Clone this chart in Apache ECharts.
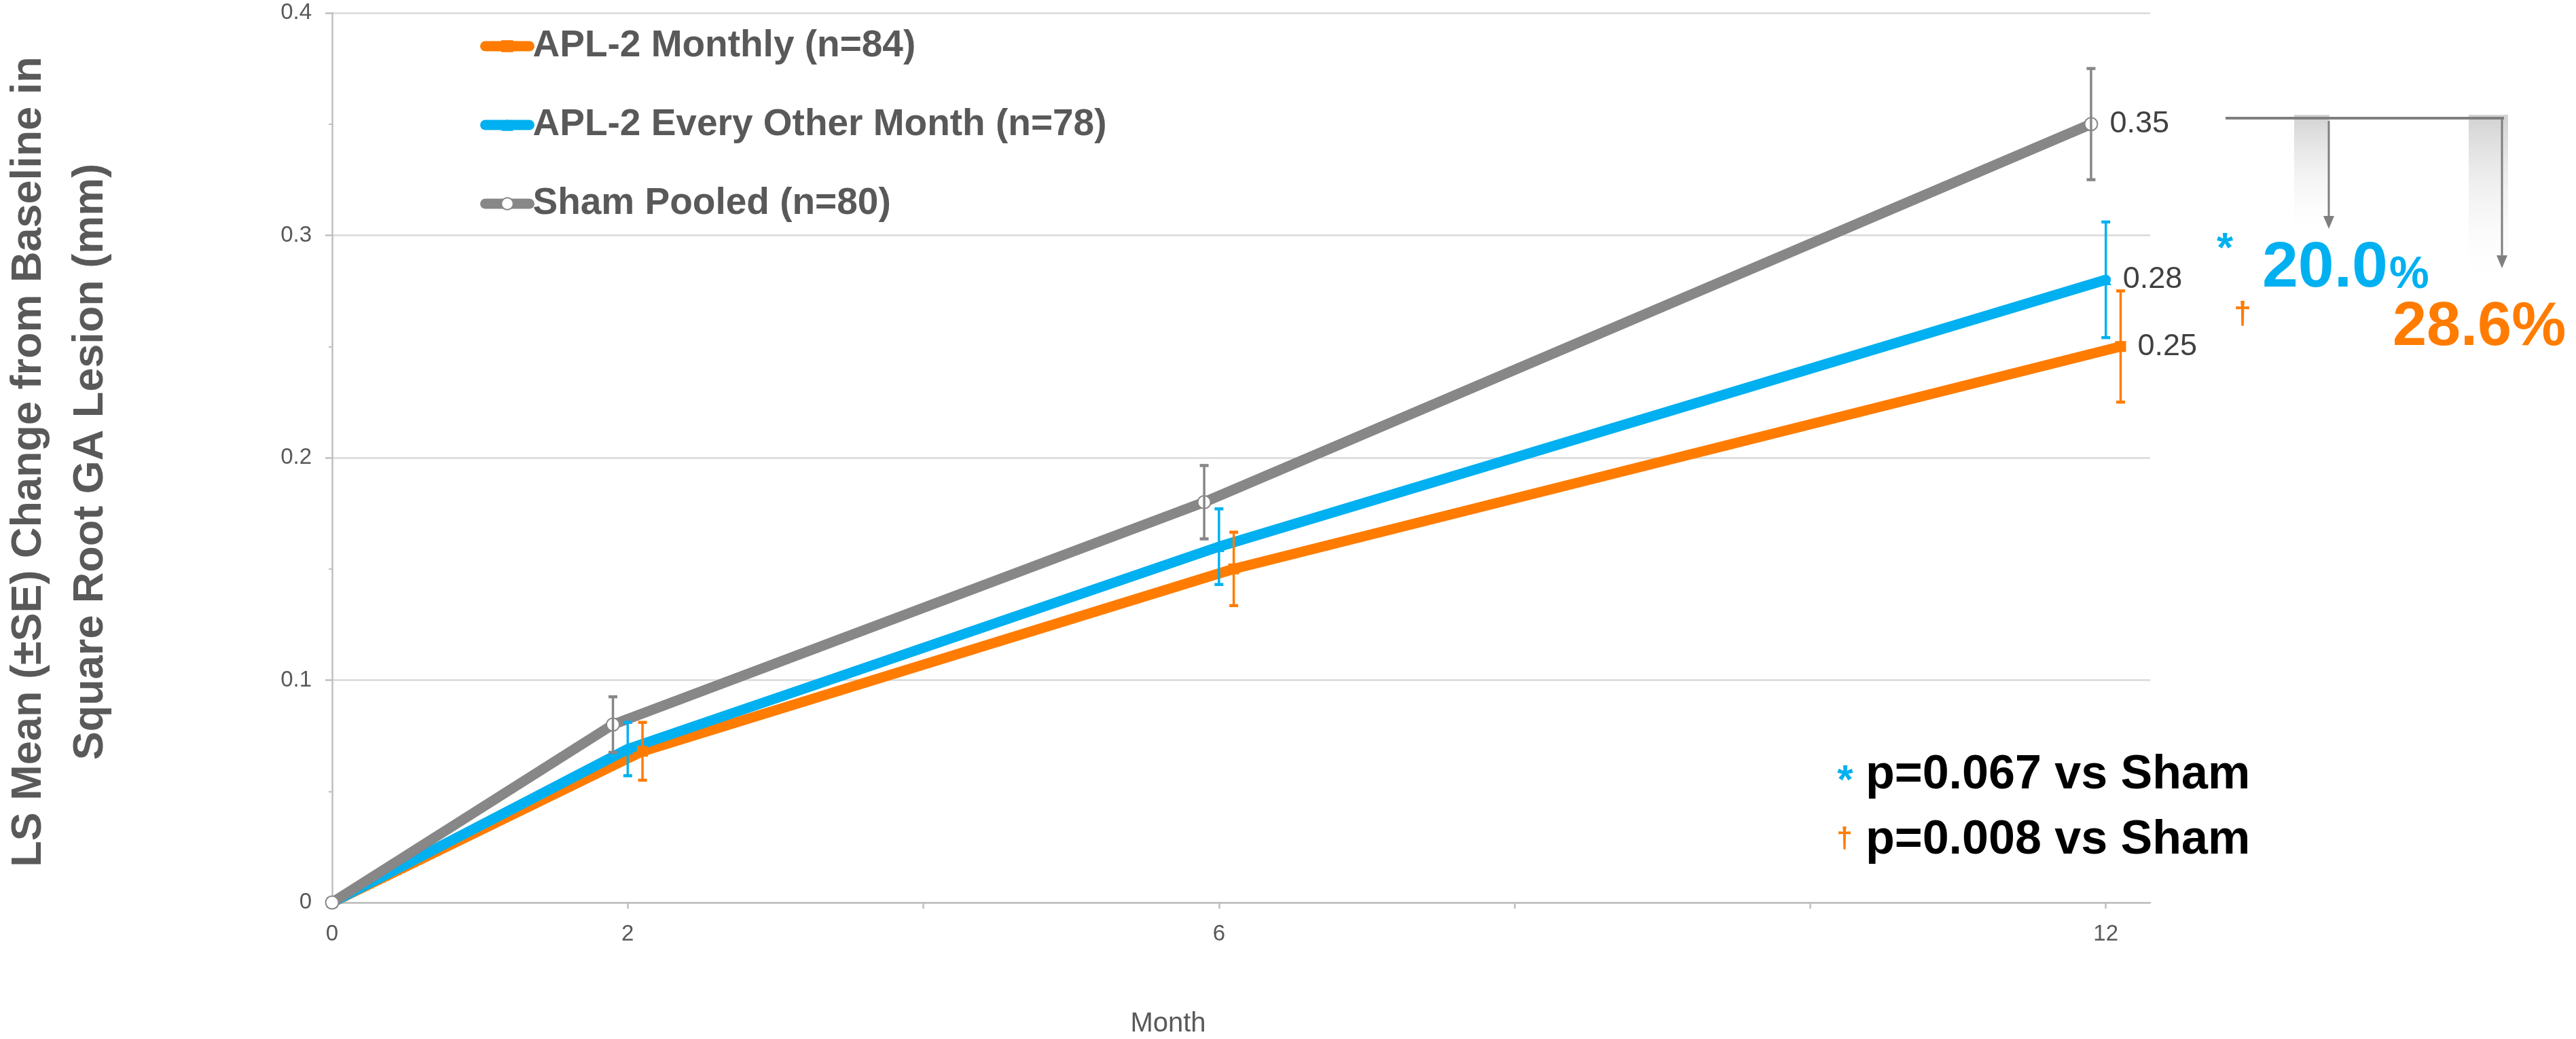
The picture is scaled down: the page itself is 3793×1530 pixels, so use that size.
<!DOCTYPE html>
<html>
<head>
<meta charset="utf-8">
<script src="https://cdn.jsdelivr.net/npm/echarts@6/dist/echarts.min.js"></script>
<style>
html,body{margin:0;padding:0;background:#fff;}
#chart{width:3793px;height:1530px;}
</style>
</head>
<body>
<div id="chart"></div>
<script>
// ---- data ----
const seriesNames = ['APL-2 Monthly (n=84)', 'APL-2 Every Other Month (n=78)', 'Sham Pooled (n=80)'];
// months at which each series is plotted (the chart staggers the groups slightly)
const monthsMonthly = [0, 2.1, 6.1, 12.1];
const monthsEOM     = [0, 2.0, 6.0, 12.0];
const monthsSham    = [0, 1.9, 5.9, 11.9];
// LS mean change from baseline (mm)
const meanMonthly = [0, 0.068, 0.150, 0.250];
const meanEOM     = [0, 0.069, 0.160, 0.280];
const meanSham    = [0, 0.080, 0.180, 0.350];
// standard errors
const seMonthly = [0, 0.013, 0.0165, 0.025];
const seEOM     = [0, 0.012, 0.017, 0.026];
const seSham    = [0, 0.0125, 0.0165, 0.025];
// axis ticks
const xTickLabels = [0, 2, 6, 12];
const xTickMarks  = [0, 2, 4, 6, 8, 10, 12];
const annotation = { eomReduction: '20.0', monthlyReduction: '28.6%', pEOM: 'p=0.067 vs Sham', pMonthly: 'p=0.008 vs Sham' };

// ---- styles ----
const FONT = '"Liberation Sans", Arial, sans-serif';
const ORANGE = '#ff7c00', BLUE = '#00b0f0', GRAY = '#878787';

function pts(xs, ys) {
  return ys.map((v, i) => i === ys.length - 1
    ? { value: [xs[i], v], label: { show: true } }
    : [xs[i], v]);
}
function errData(xs, ys, se) { return ys.map((v, i) => [xs[i], v, se[i]]); }
function errRender(color) {
  return function (params, api) {
    const x = api.value(0), y = api.value(1), se = api.value(2);
    if (!se) return null;
    const t = api.coord([x, y + se]), b = api.coord([x, y - se]);
    const cw = 13, ch = 4.5;
    return {
      type: 'group',
      children: [
        { type: 'line', shape: { x1: t[0], y1: t[1], x2: b[0], y2: b[1] }, style: { stroke: color, lineWidth: 3.5 } },
        { type: 'rect', shape: { x: t[0] - cw / 2, y: t[1] - ch / 2, width: cw, height: ch }, style: { fill: color } },
        { type: 'rect', shape: { x: b[0] - cw / 2, y: b[1] - ch / 2, width: cw, height: ch }, style: { fill: color } }
      ]
    };
  };
}
const lbl = { show: false, position: 'right', distance: 17, fontSize: 45, color: '#404040', fontFamily: FONT,
  formatter: p => p.value[1].toFixed(2) };

function lineSeries(name, xs, ys, color, symbol, size, itemStyle) {
  return {
    name, type: 'line', data: pts(xs, ys), symbol, symbolSize: size, showAllSymbol: true,
    lineStyle: { color, width: 15, cap: 'round', join: 'round' },
    itemStyle: itemStyle || { color },
    label: lbl, emphasis: { disabled: true }, z: 3
  };
}
function errSeries(xs, ys, se, color) {
  return { type: 'custom', renderItem: errRender(color), data: errData(xs, ys, se), z: 4, silent: true,
    encode: { x: 0, y: 1 } };
}

const chart = echarts.init(document.getElementById('chart'), null, { renderer: 'canvas' });

const option = {
  animation: false,
  backgroundColor: '#ffffff',
  grid: { left: 489, right: 627, top: 19, bottom: 201, containLabel: false },
  xAxis: {
    type: 'value', min: 0, max: 12.3,
    axisLine: { show: true, lineStyle: { color: '#bfbfbf', width: 2.5 } },
    axisTick: { show: true, customValues: xTickMarks, length: 9, lineStyle: { color: '#bfbfbf', width: 2.5 } },
    axisLabel: { customValues: xTickLabels, fontSize: 33, fontFamily: FONT, margin: 30,
      color: v => (v === 2 ? '#000000' : '#595959') },
    splitLine: { show: false }
  },
  yAxis: {
    type: 'value', min: 0, max: 0.4, interval: 0.1,
    axisLine: { show: true, lineStyle: { color: '#bfbfbf', width: 2.5 } },
    axisTick: { show: true, length: 10, lineStyle: { color: '#bfbfbf', width: 2.5 } },
    minorTick: { show: true, splitNumber: 2, length: 5, lineStyle: { color: '#bfbfbf', width: 2 } },
    axisLabel: { fontSize: 33, fontFamily: FONT, color: '#595959', margin: 30,
      formatter: v => (v === 0 ? '0' : v.toFixed(1)) },
    splitLine: { show: true, lineStyle: { color: '#d9d9d9', width: 2.5 } }
  },
  legend: {
    data: seriesNames,
    orient: 'vertical', left: 702, top: 33,
    itemWidth: 65, itemHeight: 22, itemGap: 56,
    lineStyle: { width: 15, cap: 'round' },
    textStyle: { fontSize: 55, fontWeight: 'bold', color: '#595959', fontFamily: FONT, lineHeight: 60, padding: [0, 0, 0, 0] }
  },
  series: [
    errSeries(monthsMonthly, meanMonthly, seMonthly, ORANGE),
    errSeries(monthsEOM, meanEOM, seEOM, BLUE),
    errSeries(monthsSham, meanSham, seSham, GRAY),
    lineSeries(seriesNames[0], monthsMonthly, meanMonthly, ORANGE, 'rect', 16),
    lineSeries(seriesNames[1], monthsEOM, meanEOM, BLUE, 'triangle', 16),
    lineSeries(seriesNames[2], monthsSham, meanSham, GRAY, 'circle', 19,
      { color: '#ffffff', borderColor: GRAY, borderWidth: 2 })
  ],
  graphic: [
    // y-axis title
    { type: 'text', x: 88, y: 680, rotation: Math.PI / 2, z: 10,
      style: { text: 'LS Mean (±SE) Change from Baseline in\nSquare Root GA Lesion (mm)',
        fontSize: 63, fontWeight: 'bold', fontFamily: FONT, fill: '#595959',
        align: 'center', verticalAlign: 'middle', lineHeight: 91 } },
    // x-axis title
    { type: 'text', x: 1720, y: 1508, z: 10,
      style: { text: 'Month', fontSize: 40, fontFamily: FONT, fill: '#595959', align: 'center', verticalAlign: 'middle' } },
    // reduction annotation: shaded bars
    { type: 'rect', shape: { x: 3378, y: 169, width: 52, height: 184 }, z: 5,
      style: { fill: { type: 'linear', x: 0, y: 0, x2: 0, y2: 1,
        colorStops: [{ offset: 0, color: '#d2d2d2' }, { offset: 1, color: 'rgba(255,255,255,0)' }] } } },
    { type: 'rect', shape: { x: 3635, y: 169, width: 58, height: 254 }, z: 5,
      style: { fill: { type: 'linear', x: 0, y: 0, x2: 0, y2: 1,
        colorStops: [{ offset: 0, color: '#d2d2d2' }, { offset: 1, color: 'rgba(255,255,255,0)' }] } } },
    // horizontal bracket line
    { type: 'line', shape: { x1: 3277, y1: 174, x2: 3687, y2: 174 }, z: 6, style: { stroke: '#7f7f7f', lineWidth: 4 } },
    // arrows
    { type: 'line', shape: { x1: 3429, y1: 178, x2: 3429, y2: 322 }, z: 6, style: { stroke: '#7f7f7f', lineWidth: 3 } },
    { type: 'polygon', shape: { points: [[3421, 318], [3437, 318], [3429, 337]] }, z: 6, style: { fill: '#7f7f7f' } },
    { type: 'line', shape: { x1: 3684, y1: 174, x2: 3684, y2: 380 }, z: 6, style: { stroke: '#7f7f7f', lineWidth: 3 } },
    { type: 'polygon', shape: { points: [[3676, 376], [3692, 376], [3684, 395]] }, z: 6, style: { fill: '#7f7f7f' } },
    // percentages
    { type: 'text', x: 3276, y: 368, z: 7,
      style: { text: '*', fontSize: 62, fontWeight: 'bold', fontFamily: FONT, fill: BLUE, align: 'center', verticalAlign: 'middle' } },
    { type: 'text', x: 3331, y: 396, z: 7,
      style: { text: annotation.eomReduction, fontSize: 95, fontWeight: 'bold', fontFamily: FONT, fill: BLUE, align: 'left', verticalAlign: 'middle' } },
    { type: 'text', x: 3518, y: 406, z: 7,
      style: { text: '%', fontSize: 66, fontWeight: 'bold', fontFamily: FONT, fill: BLUE, align: 'left', verticalAlign: 'middle' } },
    { type: 'text', x: 3302, y: 464, z: 7,
      style: { text: '†', fontSize: 46, fontWeight: 'bold', fontFamily: FONT, fill: ORANGE, align: 'center', verticalAlign: 'middle' } },
    { type: 'text', x: 3523, y: 483, z: 7,
      style: { text: annotation.monthlyReduction, fontSize: 90, fontWeight: 'bold', fontFamily: FONT, fill: ORANGE, align: 'left', verticalAlign: 'middle' } },
    // p-values
    { type: 'text', x: 2717, y: 1151, z: 7,
      style: { text: '*', fontSize: 60, fontWeight: 'bold', fontFamily: FONT, fill: BLUE, align: 'center', verticalAlign: 'middle' } },
    { type: 'text', x: 2747, y: 1142, z: 7,
      style: { text: annotation.pEOM, fontSize: 70, fontWeight: 'bold', fontFamily: FONT, fill: '#000000', align: 'left', verticalAlign: 'middle' } },
    { type: 'text', x: 2716, y: 1236, z: 7,
      style: { text: '†', fontSize: 42, fontWeight: 'bold', fontFamily: FONT, fill: ORANGE, align: 'center', verticalAlign: 'middle' } },
    { type: 'text', x: 2747, y: 1238, z: 7,
      style: { text: annotation.pMonthly, fontSize: 70, fontWeight: 'bold', fontFamily: FONT, fill: '#000000', align: 'left', verticalAlign: 'middle' } }
  ]
};
chart.setOption(option);
</script>
</body>
</html>
